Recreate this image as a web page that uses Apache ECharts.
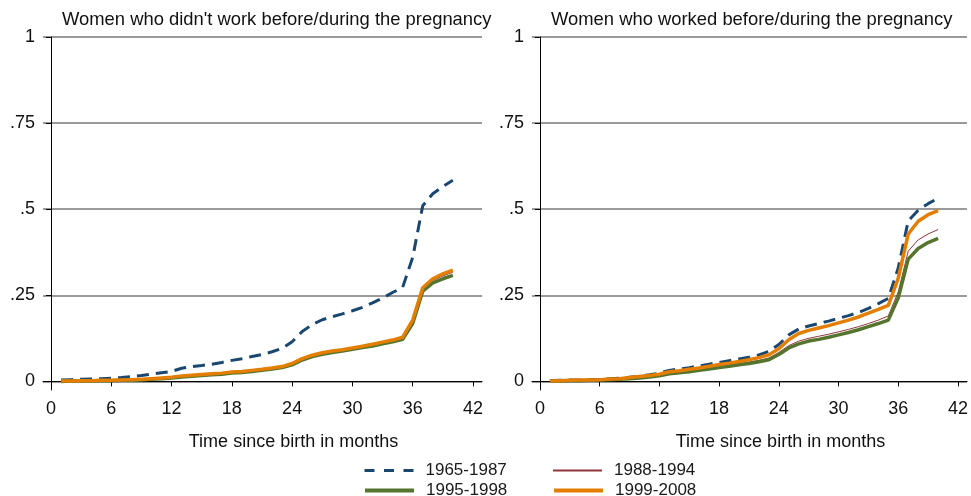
<!DOCTYPE html>
<html>
<head>
<meta charset="utf-8">
<script src="https://cdn.jsdelivr.net/npm/echarts@6/dist/echarts.min.js"></script>
<style>
  html, body { margin: 0; padding: 0; background: #fff; }
  #chart { width: 971px; height: 496px; }
</style>
</head>
<body>
<div id="chart"></div>
<script>
const months = Array.from({ length: 40 }, (_, i) => i + 1);
const seriesNames = ["1965-1987", "1988-1994", "1995-1998", "1999-2008"];
const panelTitles = [
  "Women who didn't work before/during the pregnancy",
  "Women who worked before/during the pregnancy",
];
const xTicks = [0, 6, 12, 18, 24, 30, 36, 42];
const yTicks = [0, 0.25, 0.5, 0.75, 1];
const yTickLabels = ["0", ".25", ".5", ".75", "1"];

// left panel: didn't work
const left1965 = [0.004, 0.005, 0.006, 0.007, 0.008, 0.009, 0.011, 0.014, 0.017, 0.021,
  0.025, 0.029, 0.038, 0.043, 0.046, 0.05, 0.055, 0.061, 0.066, 0.072,
  0.078, 0.086, 0.096, 0.115, 0.145, 0.165, 0.179, 0.188, 0.196, 0.205,
  0.215, 0.228, 0.242, 0.258, 0.273, 0.36, 0.51, 0.545, 0.566, 0.584];
const left1988 = [0.001, 0.001, 0.001, 0.002, 0.002, 0.003, 0.003, 0.004, 0.005, 0.007,
  0.009, 0.011, 0.015, 0.017, 0.019, 0.021, 0.023, 0.026, 0.028, 0.031,
  0.034, 0.038, 0.042, 0.05, 0.064, 0.074, 0.081, 0.086, 0.09, 0.095,
  0.1, 0.106, 0.112, 0.118, 0.125, 0.174, 0.268, 0.293, 0.306, 0.317];
const left1995 = [0.0, 0.001, 0.001, 0.001, 0.002, 0.002, 0.003, 0.003, 0.004, 0.006,
  0.008, 0.01, 0.013, 0.015, 0.017, 0.019, 0.021, 0.024, 0.026, 0.029,
  0.032, 0.036, 0.04, 0.048, 0.062, 0.072, 0.079, 0.084, 0.088, 0.093,
  0.098, 0.103, 0.109, 0.115, 0.122, 0.168, 0.262, 0.286, 0.298, 0.308];
const left1999 = [0.001, 0.001, 0.002, 0.002, 0.003, 0.003, 0.004, 0.005, 0.006, 0.008,
  0.01, 0.012, 0.016, 0.018, 0.02, 0.022, 0.024, 0.027, 0.029, 0.032,
  0.035, 0.039, 0.043, 0.052, 0.066, 0.076, 0.083, 0.088, 0.092, 0.097,
  0.102, 0.108, 0.114, 0.12, 0.128, 0.178, 0.272, 0.298, 0.312, 0.323];

// right panel: worked
const right1965 = [0.002, 0.003, 0.004, 0.004, 0.005, 0.006, 0.008, 0.009, 0.012, 0.015,
  0.019, 0.024, 0.032, 0.036, 0.04, 0.045, 0.05, 0.055, 0.06, 0.065,
  0.07, 0.077, 0.087, 0.107, 0.135, 0.152, 0.161, 0.168, 0.175, 0.183,
  0.191, 0.2, 0.212, 0.226, 0.241, 0.33, 0.466, 0.497, 0.516, 0.532];
const right1988 = [0.001, 0.002, 0.002, 0.003, 0.004, 0.004, 0.005, 0.007, 0.009, 0.012,
  0.015, 0.019, 0.025, 0.028, 0.031, 0.035, 0.04, 0.044, 0.048, 0.052,
  0.056, 0.061, 0.068, 0.084, 0.104, 0.117, 0.125, 0.131, 0.137, 0.144,
  0.151, 0.159, 0.168, 0.178, 0.19, 0.26, 0.378, 0.411, 0.428, 0.441];
const right1995 = [0.001, 0.001, 0.002, 0.002, 0.003, 0.004, 0.005, 0.006, 0.008, 0.01,
  0.013, 0.016, 0.022, 0.025, 0.028, 0.032, 0.036, 0.04, 0.044, 0.048,
  0.052, 0.057, 0.063, 0.078, 0.097, 0.109, 0.117, 0.122, 0.128, 0.135,
  0.142, 0.15, 0.159, 0.168, 0.178, 0.243, 0.355, 0.386, 0.403, 0.415];
const right1999 = [0.001, 0.002, 0.003, 0.004, 0.004, 0.005, 0.007, 0.008, 0.011, 0.014,
  0.017, 0.021, 0.028, 0.031, 0.035, 0.039, 0.044, 0.049, 0.053, 0.058,
  0.063, 0.069, 0.077, 0.095, 0.121, 0.139, 0.148, 0.155, 0.162, 0.17,
  0.178, 0.187, 0.198, 0.209, 0.221, 0.3, 0.428, 0.465, 0.484, 0.496];

const panels = [
  [left1965, left1988, left1995, left1999],
  [right1965, right1988, right1995, right1999],
];

const FONT = "'Liberation Sans', Arial, Helvetica, sans-serif";
const FS = 18;
const lineStyles = [
  { color: "#1a476f", width: 3, type: [12, 7] },
  { color: "#90353b", width: 1, type: "solid" },
  { color: "#55752f", width: 3.5, type: "solid" },
  { color: "#e37e00", width: 3.5, type: "solid" },
];
const legendLines = [
  { color: "#1a476f", width: 3, type: [10, 9.5] },
  { color: "#90353b", width: 2, type: "solid" },
  { color: "#55752f", width: 4, type: "solid" },
  { color: "#e37e00", width: 4, type: "solid" },
];

const gridLefts = [43, 532];

const grids = gridLefts.map((left) => ({ left, width: 439, top: 37, bottom: 106 }));

const xAxes = gridLefts.map((_, i) => ({
  type: "value",
  gridIndex: i,
  min: -0.8,
  max: 42.9,
  name: "Time since birth in months",
  nameLocation: "middle",
  nameGap: 43,
  nameTextStyle: { fontFamily: FONT, fontSize: FS, color: "#111", padding: [0, 0, 0, 62] },
  axisLine: { show: true, lineStyle: { color: "#000", width: 1 } },
  axisTick: { show: true, length: 5, lineStyle: { color: "#000" }, customValues: xTicks },
  axisLabel: { fontFamily: FONT, fontSize: FS, color: "#111", margin: 10, customValues: xTicks },
  splitLine: { show: false },
}));

const yAxes = gridLefts.map((_, i) => ({
  type: "value",
  gridIndex: i,
  min: -0.025,
  max: 1,
  axisLine: { show: true, lineStyle: { color: "#000", width: 1 } },
  axisTick: { show: true, length: 5, lineStyle: { color: "#000" }, customValues: yTicks },
  axisLabel: {
    fontFamily: FONT,
    fontSize: FS,
    color: "#111",
    margin: 8,
    customValues: yTicks,
    formatter: (v) => yTickLabels[yTicks.indexOf(v)] ?? "",
  },
  splitLine: { show: true, lineStyle: { color: "#9a9a9a", width: 2 } },
}));

const series = [];
panels.forEach((sets, p) => {
  sets.forEach((vals, s) => {
    series.push({
      name: seriesNames[s],
      type: "line",
      xAxisIndex: p,
      yAxisIndex: p,
      data: months.map((m, k) => [m, vals[k]]),
      showSymbol: false,
      symbol: "none",
      lineStyle: lineStyles[s],
      itemStyle: { color: lineStyles[s].color },
      z: 2 + s,
      animation: false,
    });
  });
});

// one legend per entry, laid out as a 2x2 block
const legendSpots = [
  { left: 363, top: 462 },
  { left: 552, top: 462 },
  { left: 363, top: 482 },
  { left: 552, top: 482 },
];
const legends = seriesNames.map((name, i) => ({
  ...legendSpots[i],
  data: [{ name, lineStyle: { ...legendLines[i] }, itemStyle: { opacity: 0 } }],
  itemWidth: 49,
  itemHeight: 14,
  selectedMode: false,
  padding: 0,
  textStyle: { fontFamily: FONT, fontSize: 17, color: "#1a1a1a", padding: [0, 0, 0, 7] },
}));

const chart = echarts.init(document.getElementById("chart"));
chart.setOption({
  animation: false,
  title: panelTitles.map((text, i) => ({
    text,
    left: i === 0 ? 62 : 551,
    top: 11,
    padding: 0,
    textStyle: { fontFamily: FONT, fontSize: 18.4, fontWeight: "normal", color: "#111" },
  })),
  grid: grids,
  xAxis: xAxes,
  yAxis: yAxes,
  legend: legends,
  series,
});
</script>
</body>
</html>
